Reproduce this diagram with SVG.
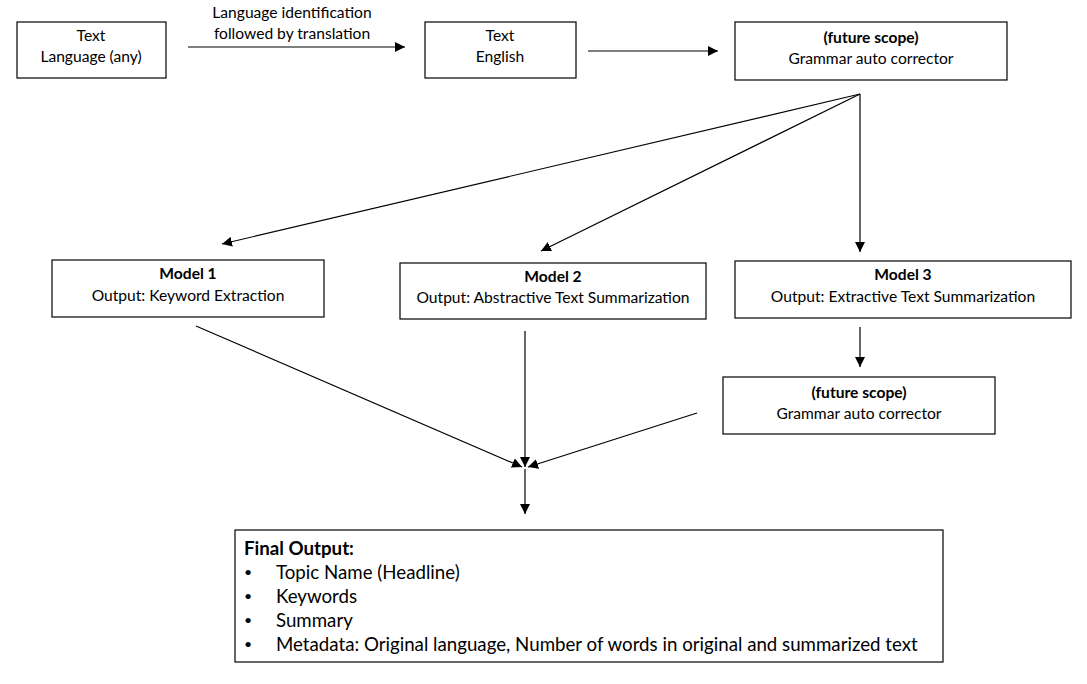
<svg xmlns="http://www.w3.org/2000/svg" width="1087" height="684" viewBox="0 0 1087 684">
<defs>
<marker id="ah" viewBox="0 0 10 10" refX="10" refY="5" markerWidth="10" markerHeight="10" markerUnits="userSpaceOnUse" orient="auto">
<path d="M0,0 L10,5 L0,10 z" fill="#000"/>
</marker>
<style>
.box{fill:#fff;stroke:#000;stroke-width:1.2}
text{font-family:Lato,"Noto Sans",sans-serif;font-size:15.6px;fill:#000}
.c{text-anchor:middle}
.b{font-weight:bold}
.f{font-size:18.7px}
.bu{font-size:14px}
.ln{stroke:#000;stroke-width:1.2;fill:none;marker-end:url(#ah)}
</style>
</defs>
<rect width="1087" height="684" fill="#fff"/>
<g id="n-src">
<rect class="box" x="17" y="22" width="149" height="56"/>
<text class="c" x="91" y="41">Text</text>
<text class="c" x="91" y="62">Language (any)</text>
</g>
<g id="n-en">
<rect class="box" x="425" y="22" width="151" height="56"/>
<text class="c" x="500" y="41">Text</text>
<text class="c" x="500" y="62">English</text>
</g>
<g id="n-gac1">
<rect class="box" x="735" y="22" width="272" height="58"/>
<text class="c b" x="871" y="43">(future scope)</text>
<text class="c" x="871" y="64">Grammar auto corrector</text>
</g>
<g id="n-m1">
<rect class="box" x="52" y="260" width="272" height="57"/>
<text class="c b" x="188" y="279">Model 1</text>
<text class="c" x="188" y="301">Output: Keyword Extraction</text>
</g>
<g id="n-m2">
<rect class="box" x="400" y="263" width="306" height="56"/>
<text class="c b" x="553" y="282">Model 2</text>
<text class="c" x="553" y="303">Output: Abstractive Text Summarization</text>
</g>
<g id="n-m3">
<rect class="box" x="735" y="261" width="336" height="57"/>
<text class="c b" x="903" y="280">Model 3</text>
<text class="c" x="903" y="302">Output: Extractive Text Summarization</text>
</g>
<g id="n-gac2">
<rect class="box" x="723" y="377" width="272" height="57"/>
<text class="c b" x="859" y="398">(future scope)</text>
<text class="c" x="859" y="419">Grammar auto corrector</text>
</g>
<g id="n-final">
<rect class="box" x="235" y="530" width="708" height="132"/>
<text class="f b" x="244" y="555">Final Output:</text>
<text class="bu" x="244" y="577">•</text>
<text class="f" x="276" y="579">Topic Name (Headline)</text>
<text class="bu" x="244" y="601">•</text>
<text class="f" x="276" y="603">Keywords</text>
<text class="bu" x="244" y="625">•</text>
<text class="f" x="276" y="627">Summary</text>
<text class="bu" x="244" y="649">•</text>
<text class="f" x="276" y="651">Metadata: Original language, Number of words in original and summarized text</text>
</g>
<g id="connectors">
<line class="ln" x1="188" y1="47" x2="405" y2="47"/>
<text class="c" x="292" y="18">Language identification</text>
<text class="c" x="292" y="39">followed by translation</text>
<line class="ln" x1="588" y1="51" x2="718" y2="51"/>
<line class="ln" x1="860" y1="94" x2="222" y2="244"/>
<line class="ln" x1="860" y1="94" x2="541" y2="251"/>
<line class="ln" x1="860" y1="94" x2="860" y2="252"/>
<line class="ln" x1="860" y1="327" x2="860" y2="367"/>
<line class="ln" x1="196" y1="326" x2="522" y2="467"/>
<line class="ln" x1="525" y1="331" x2="525" y2="467"/>
<line class="ln" x1="697" y1="413" x2="528" y2="467"/>
<line class="ln" x1="525" y1="469" x2="525" y2="514"/>
</g>
</svg>
